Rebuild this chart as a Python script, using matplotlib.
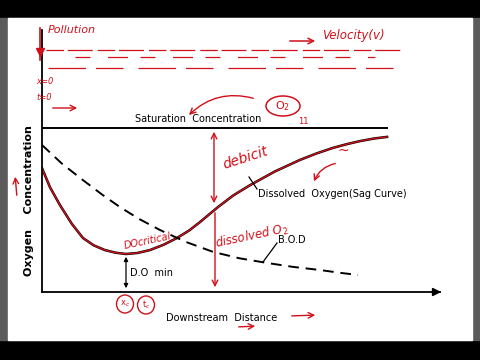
import matplotlib.pyplot as plt
from matplotlib.patches import Rectangle, Ellipse

# distance along the river (0-100) and concentrations (0-100, arbitrary units)
saturation = 62.6
saturation_end = 87.0

do_dist = [0.0, 2.0, 4.5, 7.5, 10.3, 13.0, 15.8, 18.5, 21.1, 24.0, 27.1, 30.5, 33.9,
           37.0, 39.7, 44.2, 48.0, 52.3, 58.5, 64.8, 69.0, 73.1, 76.5, 79.9, 83.5, 86.7]
do_conc = [47.3, 40.0, 33.2, 26.0, 20.6, 17.8, 16.0, 15.0, 14.5, 14.9, 16.0, 18.0, 20.6,
           23.5, 26.7, 32.4, 36.8, 40.8, 46.0, 50.4, 52.9, 55.0, 56.4, 57.6, 58.6, 59.2]

bod_dist = [0.0, 5.0, 10.3, 15.0, 19.6, 24.5, 29.6, 36.0, 43.0, 49.5, 56.5, 63.0, 69.8, 75.0, 79.4]
bod_conc = [56.1, 49.0, 42.7, 37.3, 32.4, 27.8, 23.7, 19.2, 15.3, 12.9, 11.1, 9.6, 8.4, 7.3, 6.5]

RED = "#d0101a"

fig = plt.figure(figsize=(4.8, 3.6), dpi=100, facecolor="black")

# page background (black bars, grey borders, white sheet)
bg = fig.add_axes([0, 0, 1, 1], zorder=0)
bg.set_xlim(0, 480)
bg.set_ylim(360, 0)
bg.axis("off")
bg.add_patch(Rectangle((0, 18), 480, 322, color="#5b5b5b"))
bg.add_patch(Rectangle((8, 18), 464, 322, color="white"))

ax = fig.add_axes([42 / 480, (360 - 292) / 360, 398 / 480, 262 / 360], zorder=1)
ax.patch.set_alpha(0)
ax.set_xlim(0, 100)
ax.set_ylim(0, 100)
for s in ["top", "right"]:
    ax.spines[s].set_visible(False)
for s in ["left", "bottom"]:
    ax.spines[s].set_linewidth(1.3)
ax.set_xticks([])
ax.set_yticks([])

ax.hlines(saturation, 0, saturation_end, color="black", lw=1.4)
ax.plot(do_dist, do_conc, color="black", lw=1.8)
ax.plot(do_dist, do_conc, color=RED, lw=1.0)
ax.plot(bod_dist, bod_conc, color="black", lw=1.4, dashes=(5.5, 3.5))
ax.annotate("", xy=(101, 0), xytext=(99, 0),
            arrowprops=dict(arrowstyle="-|>", color="black", lw=1.2, mutation_scale=12),
            annotation_clip=False)

# overlay in pixel coordinates for labels and the hand-written notes
ov = fig.add_axes([0, 0, 1, 1], zorder=2)
ov.set_xlim(0, 480)
ov.set_ylim(360, 0)
ov.axis("off")
ov.patch.set_alpha(0)

txt = dict(color="black", fontsize=7, family="DejaVu Sans")
ov.text(198, 119, "Saturation  Concentration", ha="center", va="center", **txt)
ov.text(29, 201, "Oxygen    Concentration", rotation=90, ha="center", va="center",
        color="black", fontsize=8, weight="bold")
ov.text(258, 194, "Dissolved  Oxygen(Sag Curve)", ha="left", va="center", **txt)
ov.text(278, 240, "B.O.D", ha="left", va="center", **txt)
ov.text(130, 273, "D.O  min", ha="left", va="center", **txt)
ov.text(222, 318, "Downstream  Distance", ha="center", va="center", **txt)
ov.plot([249, 257], [177, 189], color="black", lw=0.9)
ov.plot([277, 263], [243, 262], color="black", lw=0.9)
ov.annotate("", xy=(126, 254), xytext=(126, 291),
            arrowprops=dict(arrowstyle="<|-|>", color="black", lw=0.9, mutation_scale=6))

# red hand notes
hand = dict(color=RED, style="italic", family="DejaVu Sans")
ov.plot([40, 40], [28, 60], color=RED, lw=1.2)
ov.plot(40, 52, marker="v", color=RED, ms=6)
ov.text(48, 30, "Pollution", fontsize=8, ha="left", va="center", **hand)
ov.text(322, 35, "Velocity(v)", fontsize=8.5, ha="left", va="center", **hand)
ov.annotate("", xy=(318, 41), xytext=(287, 41),
            arrowprops=dict(arrowstyle="->", color=RED, lw=1.1))
ov.plot([46, 400], [50, 50], color=RED, lw=0.9, dashes=(14, 3, 20, 4))
ov.plot([75, 375], [57, 57], color=RED, lw=0.9, dashes=(12, 14, 16, 10))
ov.plot([48, 405], [68, 68], color=RED, lw=0.9, dashes=(30, 8, 22, 12))
ov.text(36, 82, "x=0", fontsize=6, ha="left", va="center", **hand)
ov.text(36, 97, "t=0", fontsize=6, ha="left", va="center", **hand)
ov.annotate("", xy=(80, 108), xytext=(50, 108),
            arrowprops=dict(arrowstyle="->", color=RED, lw=1.0))
ov.add_patch(Ellipse((283, 106), 34, 20, fill=False, ec=RED, lw=1.1))
ov.text(283, 106, "O$_2$", fontsize=8, ha="center", va="center", color=RED)
ov.annotate("", xy=(187, 117), xytext=(256, 99),
            arrowprops=dict(arrowstyle="->", color=RED, lw=1.0,
                            connectionstyle="arc3,rad=0.3"))
ov.text(303, 122, "11", fontsize=6, ha="center", va="center", color=RED)
ov.annotate("", xy=(214, 129), xytext=(214, 206),
            arrowprops=dict(arrowstyle="<->", color=RED, lw=1.0))
ov.text(245, 158, "debicit", fontsize=10, rotation=18, ha="center", va="center", **hand)
ov.annotate("", xy=(215, 290), xytext=(215, 210),
            arrowprops=dict(arrowstyle="->", color=RED, lw=1.0))
ov.text(252, 236, "dissolved O$_2$", fontsize=8.5, rotation=12, ha="center", va="center", **hand)
ov.text(148, 241, "DOcritical", fontsize=7, rotation=12, ha="center", va="center", **hand)
ov.add_patch(Ellipse((125, 304), 17, 18, fill=False, ec=RED, lw=1.0))
ov.add_patch(Ellipse((146, 305), 17, 18, fill=False, ec=RED, lw=1.0))
ov.text(125, 304, "x$_c$", fontsize=6, ha="center", va="center", color=RED)
ov.text(146, 305, "t$_c$", fontsize=6, ha="center", va="center", color=RED)
ov.annotate("", xy=(318, 315), xytext=(289, 316),
            arrowprops=dict(arrowstyle="->", color=RED, lw=1.0))
ov.annotate("", xy=(258, 326), xytext=(236, 327),
            arrowprops=dict(arrowstyle="->", color=RED, lw=1.0))
ov.annotate("", xy=(15, 174), xytext=(17, 198),
            arrowprops=dict(arrowstyle="->", color=RED, lw=1.0))
ov.text(343, 151, "~", fontsize=10, ha="center", va="center", color=RED)
ov.annotate("", xy=(313, 184), xytext=(338, 163),
            arrowprops=dict(arrowstyle="->", color=RED, lw=1.0,
                            connectionstyle="arc3,rad=0.3"))

fig.savefig("out.png", dpi=100, facecolor=fig.get_facecolor())
